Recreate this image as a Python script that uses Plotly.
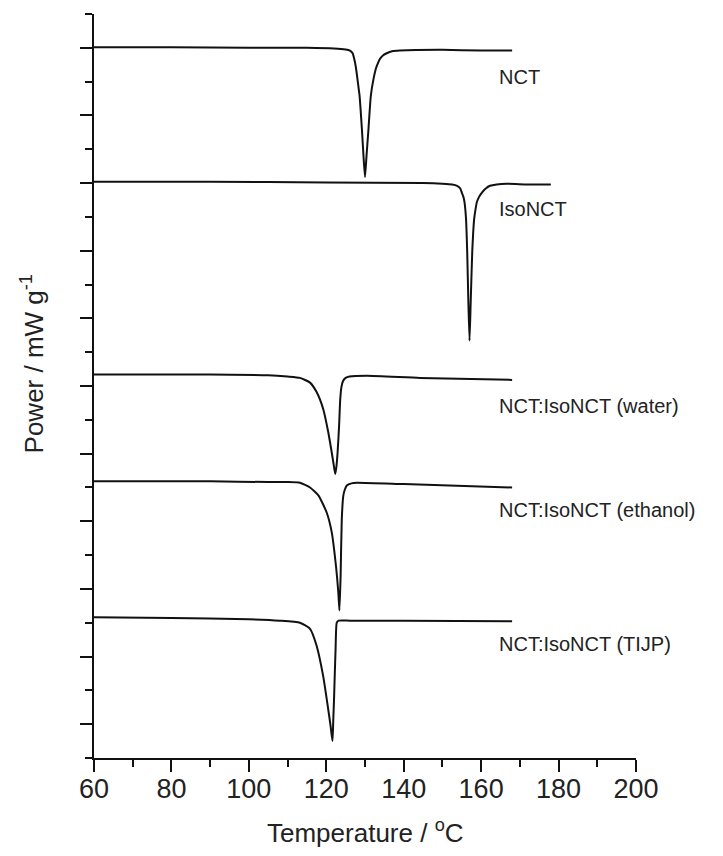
import plotly.graph_objects as go

# ---- data ----
nct_T = [60, 80, 100, 115, 122, 125, 126.1, 126.8, 127.4, 127.8, 128.2, 128.6, 129.2, 129.6, 130.0,
         130.4, 130.9, 131.5, 132.2, 132.8, 133.4, 133.9, 134.7, 135.6, 137, 139, 150, 160, 168]
nct_P = [10.01, 10.01, 10.0, 10.0, 9.99, 9.975, 9.96, 9.92, 9.79, 9.65, 9.47, 9.29, 8.80, 8.41, 8.09,
         8.41, 8.80, 9.29, 9.54, 9.69, 9.78, 9.84, 9.89, 9.92, 9.95, 9.96, 9.97, 9.96, 9.96]

iso_T = [60, 90, 120, 145, 150, 152.5, 153.8, 154.6, 155.0, 155.4, 155.7, 156.1, 156.4, 156.7, 157.0,
         157.3, 157.7, 158.2, 158.6, 158.9, 159.5, 160.2, 161.2, 162.3, 164, 166.6, 172, 178]
iso_P = [8.02, 8.02, 8.01, 8.0, 7.99, 7.98, 7.96, 7.92, 7.86, 7.80, 7.72, 7.47, 6.98, 6.24, 5.67,
         6.24, 6.98, 7.47, 7.63, 7.72, 7.80, 7.86, 7.92, 7.96, 7.98, 7.99, 7.98, 7.98]

wat_T = [60, 90, 105, 110, 113.2, 115.8, 117.5, 119.2, 120.5, 121.4, 121.9, 122.3, 122.6, 122.9,
         123.3, 123.6, 123.9, 124.3, 125.0, 126, 130.5, 144.2, 168]
wat_P = [5.17, 5.17, 5.16, 5.14, 5.12, 5.05, 4.91, 4.66, 4.32, 4.02, 3.84, 3.70, 3.80, 4.00,
         4.40, 4.80, 4.98, 5.07, 5.12, 5.14, 5.15, 5.12, 5.09]

eth_T = [60, 90, 105, 110, 113.2, 115.8, 118.0, 120.1, 121.4, 122.5, 123.1, 123.4, 123.7, 124.0,
         124.4, 124.8, 125.3, 126.5, 127.9, 140, 168]
eth_P = [3.59, 3.59, 3.58, 3.58, 3.57, 3.50, 3.38, 3.13, 2.84, 2.34, 1.95, 1.68, 2.19, 3.03,
         3.38, 3.47, 3.53, 3.56, 3.57, 3.55, 3.50]

tijp_T = [60, 80, 100, 108, 113.2, 115.8, 117.5, 119.2, 120.5, 121.1, 121.6, 121.8, 122.0, 122.2,
          122.4, 122.7, 123.2, 126.1, 140, 168]
tijp_P = [1.58, 1.57, 1.55, 1.53, 1.50, 1.41, 1.16, 0.71, 0.22, -0.02, -0.25, 0.05, 0.37, 0.75,
          1.11, 1.50, 1.53, 1.53, 1.53, 1.52]

series = [
    ("NCT", nct_T, nct_P),
    ("IsoNCT", iso_T, iso_P),
    ("NCT:IsoNCT (water)", wat_T, wat_P),
    ("NCT:IsoNCT (ethanol)", eth_T, eth_P),
    ("NCT:IsoNCT (TIJP)", tijp_T, tijp_P),
]

label_T = [164.0, 164.0, 164.0, 164.0, 164.0]
label_P = [9.57, 7.62, 4.70, 3.16, 1.18]

x_ticks = [60, 80, 100, 120, 140, 160, 180, 200]

FONT = "Liberation Sans, Arial, sans-serif"
TXT = "#222222"

fig = go.Figure()
for name, T, P in series:
    fig.add_trace(go.Scatter(x=T, y=P, mode="lines", name=name,
                             line=dict(color="#111111", width=2, shape="spline", smoothing=0.5),
                             showlegend=False))

for (name, _, _), lx, ly in zip(series, label_T, label_P):
    fig.add_annotation(x=lx, y=ly, text=name, showarrow=False, xanchor="left", yanchor="middle",
                       font=dict(family=FONT, size=20, color=TXT))

# axis titles as paper-anchored annotations
fig.add_annotation(xref="paper", yref="paper", x=0.5, y=-0.099, text="Temperature / <sup>o</sup>C",
                   showarrow=False, xanchor="center", yanchor="middle",
                   font=dict(family=FONT, size=26, color=TXT))
fig.add_annotation(xref="paper", yref="paper", x=-0.113, y=0.53, text="Power / mW g<sup>-1</sup>",
                   showarrow=False, xanchor="center", yanchor="middle", textangle=-90,
                   font=dict(family=FONT, size=26, color=TXT))

# page body has an 8px default margin, so the figure is sized to fit inside it
fig.update_layout(
    width=715, height=848,
    margin=dict(l=86, r=87, t=6, b=98, autoexpand=False),
    paper_bgcolor="white", plot_bgcolor="white",
    font=dict(family=FONT, color=TXT),
)
fig.update_xaxes(
    range=[60, 200], tickvals=x_ticks, ticktext=[str(v) for v in x_ticks],
    showline=True, linecolor="#111111", linewidth=2, mirror=False,
    ticks="outside", ticklen=12, tickwidth=2, tickcolor="#111111",
    minor=dict(ticks="outside", ticklen=7, tickwidth=2, tickcolor="#111111", dtick=10),
    showgrid=False, zeroline=False, automargin=False,
    ticklabelstandoff=-6,
    tickfont=dict(family=FONT, size=27, color=TXT),
)
fig.update_yaxes(
    range=[-0.5, 10.5], dtick=1, tick0=0, showticklabels=False,
    showline=True, linecolor="#111111", linewidth=2, mirror=False,
    ticks="outside", ticklen=12, tickwidth=2, tickcolor="#111111",
    minor=dict(ticks="outside", ticklen=7, tickwidth=2, tickcolor="#111111", dtick=0.5, tick0=0),
    showgrid=False, zeroline=False, automargin=False,
)

fig.write_html("out.html")
